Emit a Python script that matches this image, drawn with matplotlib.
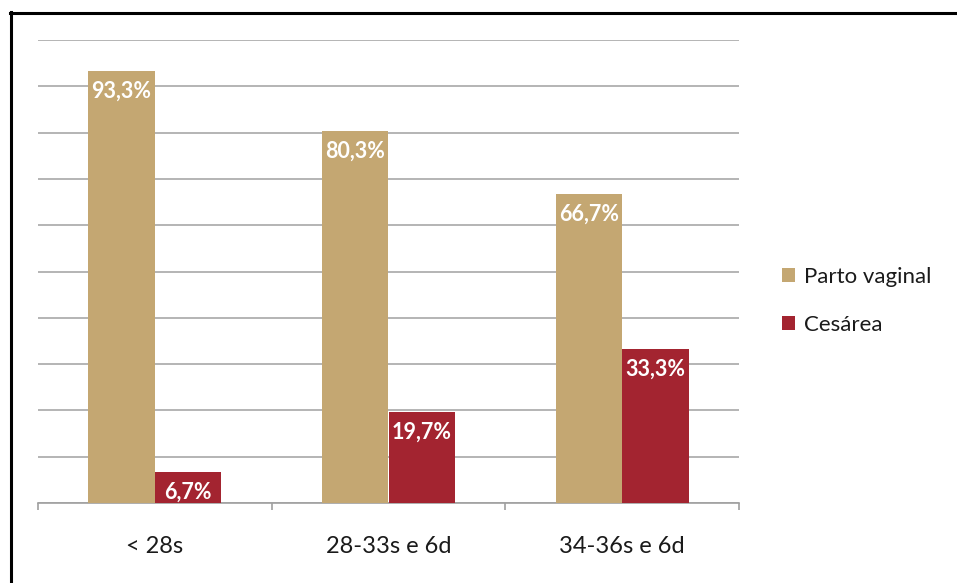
import matplotlib.pyplot as plt
from matplotlib.lines import Line2D
import numpy as np

plt.rcParams['font.family'] = ['Lato', 'DejaVu Sans']

# Tipo de parto por idade gestacional (%)
categorias = ['< 28s', '28-33s e 6d', '34-36s e 6d']
parto_vaginal = [93.3, 80.3, 66.7]
cesarea = [6.7, 19.7, 33.3]

cor_vaginal = '#C4A772'
cor_cesarea = '#A32430'
cor_grade = '#A0A0A0'

fig = plt.figure(figsize=(9.57, 5.83), dpi=100)
ax = fig.add_axes([38 / 957, 1 - 503 / 583, 701 / 957, 463 / 583])

x = np.arange(len(categorias))
w = 0.285
b1 = ax.bar(x - w / 2, parto_vaginal, w, color=cor_vaginal, label='Parto vaginal', zorder=3)
b2 = ax.bar(x + w / 2, cesarea, w, color=cor_cesarea, label='Cesárea', zorder=3)

for barras, valores in ((b1, parto_vaginal), (b2, cesarea)):
    for barra, v in zip(barras, valores):
        ax.annotate(f'{v:.1f}%'.replace('.', ','),
                    (barra.get_x() + barra.get_width() / 2, v),
                    xytext=(0, -7), textcoords='offset points',
                    ha='center', va='top', color='white',
                    fontsize=15.5, fontweight='bold', zorder=4)

ax.set_xlim(-0.5, 2.5)
ax.set_ylim(0, 100)
ax.set_yticks(np.arange(0, 101, 10))
ax.yaxis.grid(True, color=cor_grade, linewidth=1.1, zorder=0)
ax.tick_params(axis='y', left=False, labelleft=False)

# ticks at category boundaries, labels at the centres
ax.set_xticks([-0.5, 0.5, 1.5, 2.5])
ax.set_xticklabels([])
ax.set_xticks(x, minor=True)
ax.set_xticklabels(categorias, minor=True)
ax.tick_params(axis='x', which='major', length=5, width=1.2, color=cor_grade, direction='out')
ax.tick_params(axis='x', which='minor', length=0, pad=24, labelsize=17, labelcolor='#1a1a1a')

for lado in ('left', 'right', 'top'):
    ax.spines[lado].set_visible(False)
ax.spines['bottom'].set_color(cor_grade)
ax.spines['bottom'].set_linewidth(1.2)

fig.legend(handles=[b1, b2], loc='center left', bbox_to_anchor=(762 / 957, 1 - 301 / 583),
           frameon=False, fontsize=16, handlelength=0.6, handleheight=0.6,
           handletextpad=0.4, labelspacing=1.25, labelcolor='#1a1a1a')

# moldura
fig.add_artist(Line2D([10.5 / 957, 10.5 / 957], [1 - 12 / 583, 0], color='black', lw=2.2))
fig.add_artist(Line2D([10 / 957, 1], [1 - 12.5 / 583, 1 - 12.5 / 583], color='black', lw=2.2))

fig.savefig('out.png', dpi=100)
